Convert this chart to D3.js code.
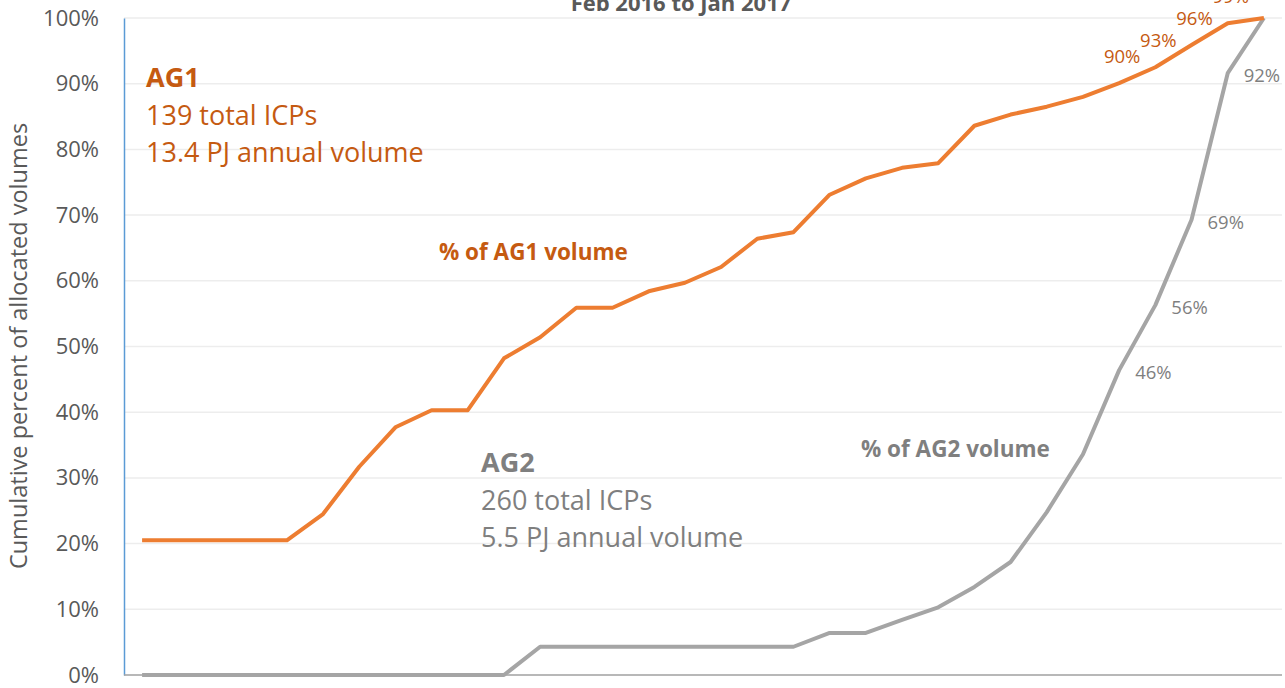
<!DOCTYPE html>
<html>
<head>
<meta charset="utf-8">
<script src="https://cdn.jsdelivr.net/npm/d3@7"></script>
<style>
  body { margin: 0; background: #fff; }
  svg { display: block; font-family: "Open Sans", sans-serif; }
</style>
</head>
<body>
<svg id="chart" width="1285" height="688"></svg>
<script>
// 32 periods along the x axis (no labels shown)
var periods = d3.range(32);

// cumulative share of allocated volume, in %
var ag1Values = [20.5, 20.5, 20.5, 20.5, 20.5, 24.5, 31.7, 37.7, 40.3, 40.3,
  48.2, 51.4, 55.9, 55.9, 58.4, 59.7, 62.1, 66.4, 67.4, 73.1,
  75.6, 77.2, 77.9, 83.6, 85.3, 86.5, 88.0, 90.1, 92.5, 95.9, 99.2, 100];
var ag2Values = [0, 0, 0, 0, 0, 0, 0, 0, 0, 0,
  0, 4.3, 4.3, 4.3, 4.3, 4.3, 4.3, 4.3, 4.3, 6.4,
  6.4, 8.4, 10.3, 13.4, 17.2, 24.8, 33.6, 46.4, 56.3, 69.3, 91.6, 100];

// labelled points
var ag1Labels = [[27, "90%"], [28, "93%"], [29, "96%"], [30, "99%"]];
var ag2Labels = [[27, "46%"], [28, "56%"], [29, "69%"], [30, "92%"]];

var yTicks = [0, 10, 20, 30, 40, 50, 60, 70, 80, 90, 100];

var orange = "#ED7D31", orangeText = "#C55A11";
var grey = "#A5A5A5", greyText = "#7F7F7F";

var margin = { top: 18, right: 3, bottom: 13, left: 124 };
var svg = d3.select("#chart");
var width = 1285 - margin.left - margin.right;
var height = 688 - margin.top - margin.bottom;

var x = d3.scaleBand().domain(periods).range([0, width]);
var y = d3.scaleLinear().domain([0, 100]).range([height, 0]);

var g = svg.append("g").attr("transform", "translate(" + margin.left + "," + margin.top + ")");

// gridlines
g.append("g")
  .selectAll("line")
  .data(yTicks.slice(1))
  .join("line")
  .attr("x1", 0).attr("x2", width)
  .attr("y1", function (d) { return y(d); })
  .attr("y2", function (d) { return y(d); })
  .attr("stroke", "#EDEDED")
  .attr("stroke-width", 1.5);

// y axis
var yAxis = g.append("g")
  .call(d3.axisLeft(y).tickValues(yTicks).tickSize(0).tickPadding(25)
    .tickFormat(function (d) { return d + "%"; }));
yAxis.select(".domain").attr("stroke", "#5B9BD5").attr("stroke-width", 1.5);
yAxis.selectAll("text")
  .attr("fill", "#595959")
  .style("font-size", "22px")
  .style("font-family", "'Open Sans', sans-serif");

// x axis line
g.append("line")
  .attr("x1", 0).attr("x2", width)
  .attr("y1", height).attr("y2", height)
  .attr("stroke", "#A0A0A0")
  .attr("stroke-width", 1.5);

// title (partly off the top of the picture)
svg.append("text")
  .attr("x", 681).attr("y", 11)
  .attr("text-anchor", "middle")
  .attr("fill", "#595959")
  .style("font-size", "22px")
  .style("font-weight", "bold")
  .text("Feb 2016 to Jan 2017");

// y axis title
svg.append("text")
  .attr("transform", "translate(27,346) rotate(-90)")
  .attr("text-anchor", "middle")
  .attr("fill", "#595959")
  .style("font-size", "23.5px")
  .text("Cumulative percent of allocated volumes");

var line = d3.line()
  .x(function (d, i) { return x(periods[i]) + x.bandwidth() / 2; })
  .y(function (d) { return y(d); });

g.append("path")
  .datum(ag2Values)
  .attr("fill", "none")
  .attr("stroke", grey)
  .attr("stroke-width", 4)
  .attr("stroke-linejoin", "round")
  .attr("d", line);

g.append("path")
  .datum(ag1Values)
  .attr("fill", "none")
  .attr("stroke", orange)
  .attr("stroke-width", 4)
  .attr("stroke-linejoin", "round")
  .attr("d", line);

// point labels
g.selectAll(".lab1")
  .data(ag1Labels)
  .join("text")
  .attr("x", function (d) { return x(periods[d[0]]) + x.bandwidth() / 2 + 3; })
  .attr("y", function (d) { return y(ag1Values[d[0]]) - 20; })
  .attr("text-anchor", "middle")
  .attr("fill", orangeText)
  .style("font-size", "18.5px")
  .text(function (d) { return d[1]; });

g.selectAll(".lab2")
  .data(ag2Labels)
  .join("text")
  .attr("x", function (d) { return x(periods[d[0]]) + x.bandwidth() / 2 + 16; })
  .attr("y", function (d) { return y(ag2Values[d[0]]) + 9; })
  .attr("fill", greyText)
  .style("font-size", "18.5px")
  .text(function (d) { return d[1]; });

// series annotations
function block(xPos, yPos, color, lines) {
  var t = svg.append("text").attr("fill", color);
  lines.forEach(function (l, i) {
    t.append("tspan")
      .attr("x", xPos)
      .attr("y", yPos + i * 37.5)
      .style("font-size", "27px")
      .style("font-weight", i === 0 ? "bold" : "normal")
      .text(l);
  });
}
block(146, 87, orangeText, ["AG1", "139 total ICPs", "13.4 PJ annual volume"]);
block(481, 472, greyText, ["AG2", "260 total ICPs", "5.5 PJ annual volume"]);

svg.append("text")
  .attr("x", 439).attr("y", 260)
  .attr("fill", orangeText)
  .style("font-size", "22.5px")
  .style("font-weight", "bold")
  .text("% of AG1 volume");

svg.append("text")
  .attr("x", 861).attr("y", 457)
  .attr("fill", greyText)
  .style("font-size", "22.5px")
  .style("font-weight", "bold")
  .text("% of AG2 volume");
</script>
</body>
</html>
